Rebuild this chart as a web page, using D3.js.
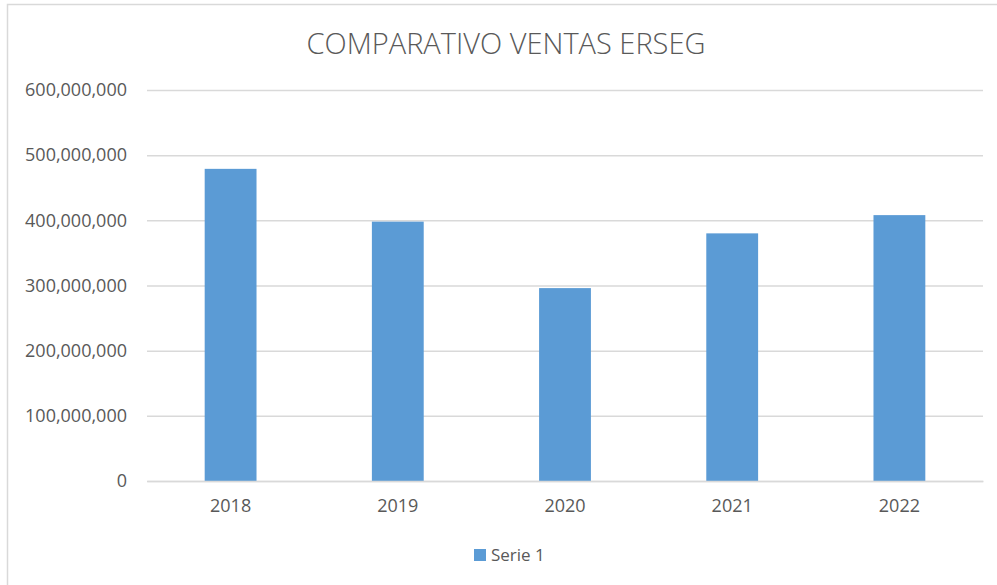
<!DOCTYPE html>
<html>
<head>
<meta charset="utf-8">
<script src="https://cdn.jsdelivr.net/npm/d3@7"></script>
<style>
  html, body { margin: 0; padding: 0; background: #fff; }
  #app { width: 997px; height: 585px; }
  text { font-family: "Open Sans", "Noto Sans", sans-serif; }
</style>
</head>
<body>
<div id="app"></div>
<script>
const years = ['2018', '2019', '2020', '2021', '2022'];
const ventas = [479000000, 398000000, 296000000, 380000000, 408000000];
const yTicks = [0, 100000000, 200000000, 300000000, 400000000, 500000000, 600000000];
const seriesName = 'Serie 1';
const chartTitle = 'COMPARATIVO VENTAS ERSEG';

const render = () => {
	const width = 997;
	const height = 585;
	const margin = { top: 90, right: 14, bottom: 104, left: 147 };
	const innerW = width - margin.left - margin.right;
	const innerH = height - margin.top - margin.bottom;

	const svg = d3.select('#app').append('svg')
		.attr('width', width)
		.attr('height', height);

	// chart area border
	svg.append('rect')
		.attr('x', 7.5)
		.attr('y', 4.5)
		.attr('width', width + 20)
		.attr('height', height + 20)
		.attr('fill', '#fff')
		.attr('stroke', '#d9d9d9')
		.attr('stroke-width', 1.5);

	svg.append('text')
		.attr('x', 506)
		.attr('y', 54)
		.attr('text-anchor', 'middle')
		.attr('font-size', 29)
		.attr('font-weight', 300)
		.attr('fill', '#595959')
		.text(chartTitle);

	const g = svg.append('g')
		.attr('transform', `translate(${margin.left}, ${margin.top})`);

	const x = d3.scaleBand()
		.domain(years)
		.range([0, innerW])
		.paddingInner(0.69)
		.paddingOuter(0.345);

	const y = d3.scaleLinear()
		.domain([0, 600000000])
		.range([innerH, 0]);

	const yAxis = g.append('g')
		.call(d3.axisLeft(y)
			.tickValues(yTicks)
			.tickFormat(d3.format(','))
			.tickSize(-innerW)
			.tickPadding(20));
	yAxis.select('.domain').remove();
	yAxis.selectAll('.tick line')
		.attr('stroke', '#d9d9d9')
		.attr('stroke-width', 1.5);
	yAxis.selectAll('.tick text')
		.attr('fill', '#595959')
		.attr('font-size', 18);

	g.selectAll('rect.bar')
		.data(years)
		.join('rect')
		.attr('class', 'bar')
		.attr('x', (d) => x(d))
		.attr('y', (d, i) => y(ventas[i]))
		.attr('width', x.bandwidth())
		.attr('height', (d, i) => innerH - y(ventas[i]))
		.attr('fill', '#5b9bd5');

	const xAxis = g.append('g')
		.attr('transform', `translate(0, ${innerH})`)
		.call(d3.axisBottom(x).tickSize(0).tickPadding(18));
	xAxis.select('.domain')
		.attr('stroke', '#d9d9d9')
		.attr('stroke-width', 1.5);
	xAxis.selectAll('.tick text')
		.attr('fill', '#595959')
		.attr('font-size', 18);

	// legend
	const legend = svg.append('g')
		.attr('transform', 'translate(474, 549)');
	legend.append('rect')
		.attr('width', 12)
		.attr('height', 12)
		.attr('fill', '#5b9bd5');
	legend.append('text')
		.attr('x', 17)
		.attr('y', 6)
		.attr('dy', '0.35em')
		.attr('font-size', 17)
		.attr('fill', '#595959')
		.text(seriesName);
};

render();
</script>
</body>
</html>
